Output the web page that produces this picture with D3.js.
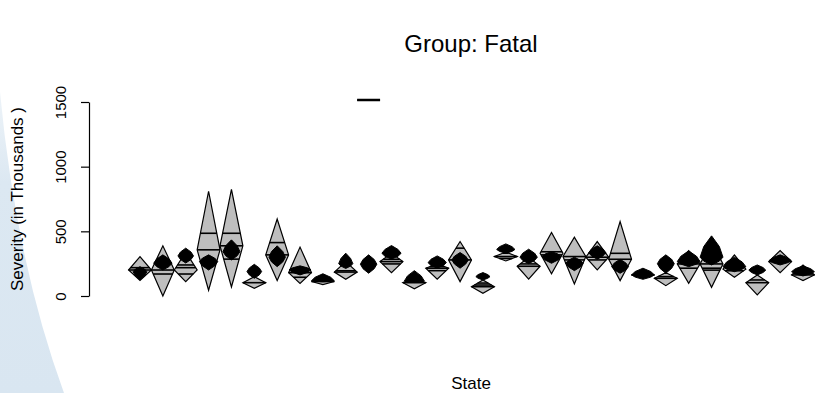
<!DOCTYPE html>
<html>
<head>
<meta charset="utf-8">
<script src="https://cdn.jsdelivr.net/npm/d3@7"></script>
<style>
  body { margin: 0; background: #fff; }
  svg { display: block; font-family: "Liberation Sans", Arial, sans-serif; }
</style>
</head>
<body>
<svg id="chart" width="815" height="393"></svg>
<script>
// Bean positions along the State axis (1..30)
const beanPos = d3.range(1, 31);

// Gray bean: upper tip, widest point, lower tip (thousands)
const grayTop = [305, 388, 340, 810, 825, 150, 595, 378, 125, 266, 1515, 330, 130, 250, 421, 124, 340, 300, 491, 455, 421, 576, 180, 180, 350, 420, 318, 163, 351, 240];
const grayMid = [201, 201, 201, 357, 388, 103, 318, 180, 112, 185, 1515, 266, 103, 215, 279, 72, 305, 230, 331, 305, 300, 284, 163, 137, 248, 248, 207, 103, 266, 163];
const grayBot = [120, 0, 111, 45, 70, 60, 120, 98, 88, 130, 1515, 180, 55, 130, 111, 21, 271, 130, 171, 93, 202, 119, 140, 80, 98, 67, 145, 8, 181, 119];

// Horizontal bean lines inside each gray bean (thousands)
const beanLines = [
  [219, 201], [201, 170], [240, 219, 170], [485, 357], [485, 388, 285],
  [103], [413, 318], [207, 180, 145], [112], [195, 185],
  [1515], [284, 266, 248], [103], [227, 215, 196], [370, 279],
  [100, 85, 72], [331, 305, 290], [279, 248, 230], [342, 318], [305, 279],
  [330, 300, 279], [330, 284], [163], [176, 150, 137], [248, 215],
  [248, 215, 200], [220, 195], [124, 103], [274, 266], [175, 163]
];

// Black bean: upper tip, widest point, lower tip (thousands) and relative width
const blackTop = [227, 318, 370, 318, 434, 245, 388, 233, 172, 331, 318, 390, 196, 310, 336, 181, 403, 362, 343, 300, 388, 284, 215, 318, 349, 465, 300, 240, 318, 233];
const blackMid = [188, 254, 310, 266, 343, 189, 300, 202, 118, 250, 246, 330, 115, 258, 279, 150, 360, 300, 305, 253, 336, 227, 163, 250, 266, 300, 227, 200, 274, 188];
const blackBot = [124, 201, 255, 201, 279, 137, 227, 163, 110, 213, 176, 285, 104, 215, 215, 124, 330, 250, 253, 196, 284, 176, 129, 176, 227, 240, 188, 163, 240, 155];
const blackWidth = [0.30, 0.40, 0.34, 0.40, 0.37, 0.32, 0.36, 0.48, 0.50, 0.31, 0.36, 0.42, 0.44, 0.40, 0.36, 0.31, 0.40, 0.38, 0.42, 0.38, 0.37, 0.37, 0.50, 0.37, 0.50, 0.50, 0.50, 0.37, 0.48, 0.50];

// Y axis ticks
const yTicks = [0, 500, 1000, 1500];

const svg = d3.select("#chart");

// Pale blue backdrop arc on the left edge
const bg = svg.append("defs").append("linearGradient")
  .attr("id", "fade").attr("x1", 0).attr("y1", 0).attr("x2", 0).attr("y2", 1);
bg.append("stop").attr("offset", "0%").attr("stop-color", "#dce8f2").attr("stop-opacity", 0.5);
bg.append("stop").attr("offset", "30%").attr("stop-color", "#dce8f2").attr("stop-opacity", 1);
bg.append("stop").attr("offset", "100%").attr("stop-color", "#d9e6f1").attr("stop-opacity", 1);
svg.append("path")
  .attr("d", "M0,92 Q16,262 64,393 L0,393 Z")
  .attr("fill", "url(#fade)");

const x = d3.scaleLinear().domain([1, 30]).range([140, 803]);
const y = d3.scaleLinear().domain([0, 1500]).range([296, 102]);
const slot = x(2) - x(1);
const grayHalf = slot * 0.5;

const beans = beanPos.map((p, i) => ({
  p, gt: grayTop[i], gm: grayMid[i], gb: grayBot[i], lines: beanLines[i],
  bt: blackTop[i], bm: blackMid[i], bb: blackBot[i], bw: blackWidth[i]
}));

function kite(cx, hw, t, m, b) {
  return `M${cx - hw},${y(m)}L${cx},${y(t)}L${cx + hw},${y(m)}L${cx},${y(b)}Z`;
}
// Slightly bulging diamond for the black beans
function blob(cx, hw, t, m, b) {
  const s = 0.68;
  const yu = y((t + m) / 2), yl = y((m + b) / 2);
  return `M${cx},${y(t)}L${cx + hw * s},${yu}L${cx + hw},${y(m)}L${cx + hw * s},${yl}` +
         `L${cx},${y(b)}L${cx - hw * s},${yl}L${cx - hw},${y(m)}L${cx - hw * s},${yu}Z`;
}
function halfAt(d, v) {
  if (d.gt === d.gb) return grayHalf;
  if (v >= d.gm) return d.gt === d.gm ? grayHalf : grayHalf * (d.gt - v) / (d.gt - d.gm);
  return d.gm === d.gb ? grayHalf : grayHalf * (v - d.gb) / (d.gm - d.gb);
}

const g = svg.append("g");

// Gray beans
g.selectAll("path.gray").data(beans).join("path")
  .attr("class", "gray")
  .attr("d", d => kite(x(d.p), grayHalf, d.gt, d.gm, d.gb))
  .attr("fill", "#bebebe")
  .attr("stroke", "#000")
  .attr("stroke-width", d => d.gt === d.gb ? 2.4 : 1.2)
  .attr("stroke-linejoin", "miter");

// Bean lines
g.selectAll("g.lines").data(beans).join("g")
  .attr("class", "lines")
  .selectAll("line").data(d => d.lines.map(v => ({ d, v }))).join("line")
  .attr("x1", o => x(o.d.p) - halfAt(o.d, o.v))
  .attr("x2", o => x(o.d.p) + halfAt(o.d, o.v))
  .attr("y1", o => y(o.v))
  .attr("y2", o => y(o.v))
  .attr("stroke", "#000")
  .attr("stroke-width", 1.6);

// Black beans
g.selectAll("path.black").data(beans).join("path")
  .attr("class", "black")
  .attr("d", d => blob(x(d.p), slot * d.bw, d.bt, d.bm, d.bb))
  .attr("fill", "#000")
  .attr("stroke", "#000")
  .attr("stroke-width", 1)
  .attr("stroke-linejoin", "round");

// Y axis
const axis = svg.append("g")
  .attr("transform", "translate(89,0)")
  .call(d3.axisLeft(y).tickValues(yTicks).tickSize(8).tickSizeOuter(0).tickFormat(d3.format("d")));
axis.select(".domain").attr("stroke", "#000").attr("stroke-width", 1.2);
axis.selectAll(".tick line").attr("stroke", "#000").attr("stroke-width", 1.2);
axis.selectAll(".tick text")
  .attr("x", 0).attr("dy", null).attr("y", -23)
  .attr("transform", "rotate(-90)")
  .attr("text-anchor", "middle")
  .attr("fill", "#000")
  .style("font-size", "15px")
  .style("font-family", "'Liberation Sans', Arial, sans-serif");

// Titles
svg.append("text")
  .attr("x", 471).attr("y", 52)
  .attr("text-anchor", "middle")
  .style("font-size", "24px")
  .text("Group: Fatal");

svg.append("text")
  .attr("x", 471).attr("y", 389)
  .attr("text-anchor", "middle")
  .style("font-size", "17px")
  .text("State");

svg.append("text")
  .attr("transform", "translate(23,199) rotate(-90)")
  .attr("text-anchor", "middle")
  .style("font-size", "17px")
  .text("Severity (in Thousands )");
</script>
</body>
</html>
